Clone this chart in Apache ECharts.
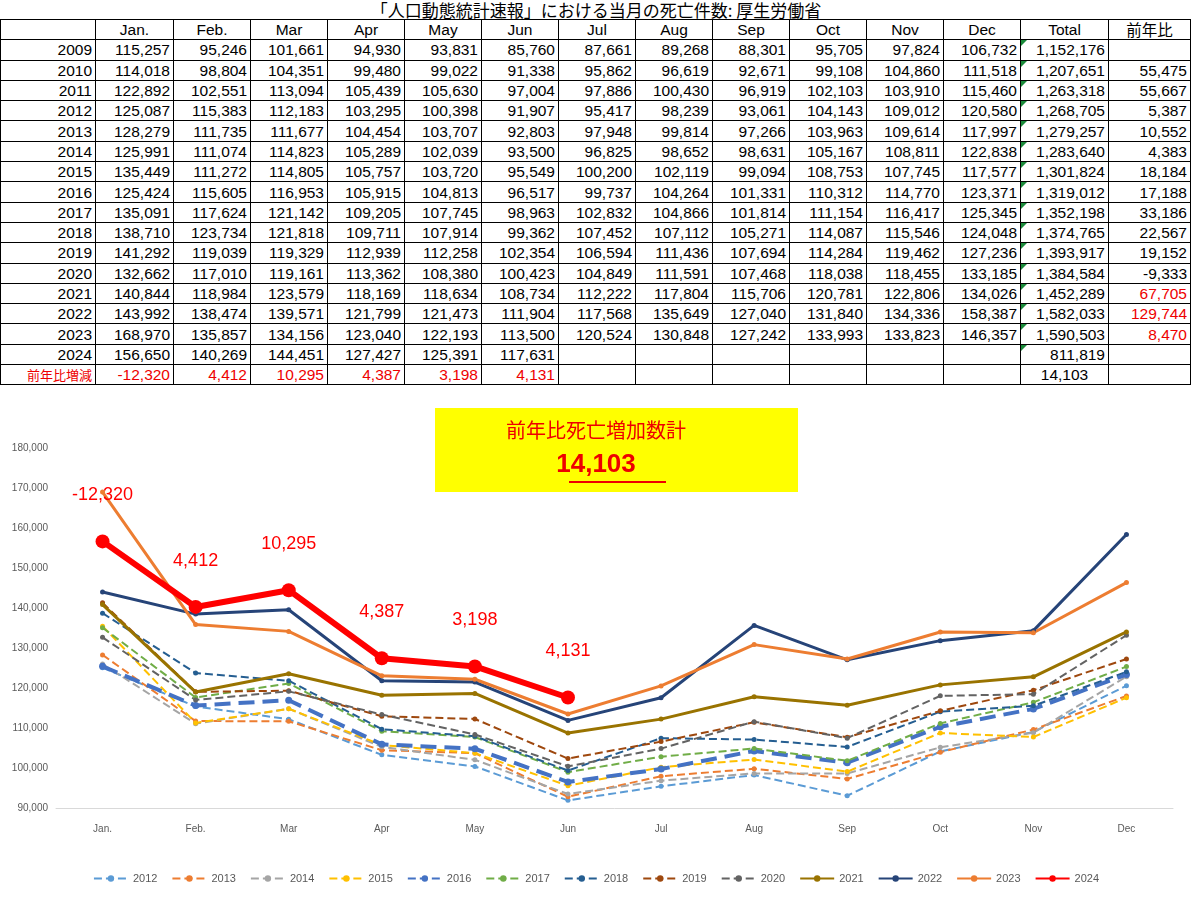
<!DOCTYPE html>
<html><head><meta charset="utf-8">
<script src="https://cdn.jsdelivr.net/npm/echarts@6/dist/echarts.min.js"></script>
<style>
body{margin:0;background:#fff;font-family:"Liberation Sans",Arial,"Noto Sans CJK JP",sans-serif;}
#title{position:absolute;left:0;top:0;width:1192px;text-align:center;font-size:17px;line-height:19px;font-family:"Noto Sans CJK JP",sans-serif;}
table{position:absolute;left:0;top:19px;border-collapse:collapse;font-size:15.5px;}
td{border:1px solid #000;height:19.3px;padding:0 3px;text-align:right;line-height:17px;white-space:nowrap;position:relative;}
tr.h td{text-align:center;}
td.red{color:#e00;}
td.tot::before{content:"";position:absolute;left:0;top:0;border-top:6px solid #1a8a3a;border-right:6px solid transparent;}
#chart{position:absolute;left:0;top:398px;width:1192px;height:499px;}
</style></head><body>
<div id="title">「人口動態統計速報」における当月の死亡件数: 厚生労働省</div>
<table id="tbl"></table>
<div id="chart"></div>
<script>
const months = ['Jan.','Feb.','Mar','Apr','May','Jun','Jul','Aug','Sep','Oct','Nov','Dec'];
const years = ['2009','2010','2011','2012','2013','2014','2015','2016','2017','2018','2019','2020','2021','2022','2023','2024'];
const y2009 = [115257,95246,101661,94930,93831,85760,87661,89268,88301,95705,97824,106732];
const y2010 = [114018,98804,104351,99480,99022,91338,95862,96619,92671,99108,104860,111518];
const y2011 = [122892,102551,113094,105439,105630,97004,97886,100430,96919,102103,103910,115460];
const y2012 = [125087,115383,112183,103295,100398,91907,95417,98239,93061,104143,109012,120580];
const y2013 = [128279,111735,111677,104454,103707,92803,97948,99814,97266,103963,109614,117997];
const y2014 = [125991,111074,114823,105289,102039,93500,96825,98652,98631,105167,108811,122838];
const y2015 = [135449,111272,114805,105757,103720,95549,100200,102119,99094,108753,107745,117577];
const y2016 = [125424,115605,116953,105915,104813,96517,99737,104264,101331,110312,114770,123371];
const y2017 = [135091,117624,121142,109205,107745,98963,102832,104866,101814,111154,116417,125345];
const y2018 = [138710,123734,121818,109711,107914,99362,107452,107112,105271,114087,115546,124048];
const y2019 = [141292,119039,119329,112939,112258,102354,106594,111436,107694,114284,119462,127236];
const y2020 = [132662,117010,119161,113362,108380,100423,104849,111591,107468,118038,118455,133185];
const y2021 = [140844,118984,123579,118169,118634,108734,112222,117804,115706,120781,122806,134026];
const y2022 = [143992,138474,139571,121799,121473,111904,117568,135649,127040,131840,134336,158387];
const y2023 = [168970,135857,134156,123040,122193,113500,120524,130848,127242,133993,133823,146357];
const y2024 = [156650,140269,144451,127427,125391,117631];
const diff2024 = [-12320,4412,10295,4387,3198,4131];
const totals = [1152176,1207651,1263318,1268705,1279257,1283640,1301824,1319012,1352198,1374765,1393917,1384584,1452289,1582033,1590503,811819];
const yoy = [null,55475,55667,5387,10552,4383,18184,17188,33186,22567,19152,-9333,67705,129744,8470];
const diffTotal = 14103;

const rows = [y2009,y2010,y2011,y2012,y2013,y2014,y2015,y2016,y2017,y2018,y2019,y2020,y2021,y2022,y2023,y2024];
const f = v => v == null ? '' : v.toLocaleString('en-US');
const widths = [95,78,77,77,77,77,77,77,77,77,77,77,77,88,82];
let h = '<tr class="h"><td></td>' + months.map(m => '<td>' + m + '</td>').join('') + '<td>Total</td><td style="font-family:Noto Sans CJK JP">前年比</td></tr>';
rows.forEach((r, i) => {
  h += '<tr><td>' + years[i] + '</td>';
  for (let m = 0; m < 12; m++) h += '<td>' + f(r[m]) + '</td>';
  h += '<td class="tot">' + f(totals[i]) + '</td><td class="' + (i >= 12 && i <= 14 ? 'red' : '') + '">' + f(yoy[i]) + '</td></tr>';
});
h += '<tr><td class="red" style="font-family:Noto Sans CJK JP;font-size:13px">前年比増減</td>';
for (let m = 0; m < 12; m++) h += '<td class="red">' + f(diff2024[m]) + '</td>';
h += '<td style="text-align:center">' + f(diffTotal) + '</td><td></td></tr>';
const tbl = document.getElementById('tbl');
tbl.innerHTML = h;
Array.from(tbl.rows[0].cells).forEach((c, i) => { c.style.width = (widths[i] - 7) + 'px'; c.style.minWidth = (widths[i] - 7) + 'px'; });

const styles = [
  ['2012', y2012, '#5b9bd5', 'dashed', 2, 5],
  ['2013', y2013, '#ed7d31', 'dashed', 2, 5],
  ['2014', y2014, '#a5a5a5', 'dashed', 2, 5],
  ['2015', y2015, '#ffc000', 'dashed', 2, 5],
  ['2016', y2016, '#4472c4', 'dashed', 4, 7],
  ['2017', y2017, '#70ad47', 'dashed', 2, 5],
  ['2018', y2018, '#255e91', 'dashed', 2, 5],
  ['2019', y2019, '#9e480e', 'dashed', 2, 5],
  ['2020', y2020, '#636363', 'dashed', 2, 5],
  ['2021', y2021, '#997300', 'solid', 3, 5],
  ['2022', y2022, '#264478', 'solid', 3, 5],
  ['2023', y2023, '#ed7d31', 'solid', 3, 5],
  ['2024', y2024, '#ff0000', 'solid', 6, 14]
];
const series = styles.map(s => ({
  name: s[0], type: 'line', data: s[1], symbol: 'circle', symbolSize: s[5],
  lineStyle: { color: s[2], type: s[3], width: s[4] }, itemStyle: { color: s[2] },
  z: s[0] === '2024' ? 10 : 2,
  label: s[0] === '2024' ? { show: true, position: 'top', distance: 30, color: '#f00', fontSize: 18,
    formatter: p => f(diff2024[p.dataIndex]) } : { show: false }
}));

const chart = echarts.init(document.getElementById('chart'));
chart.setOption({
  animation: false,
  grid: { left: 56, right: 19, top: 50, bottom: 89 },
  xAxis: { type: 'category', data: months, axisLine: { lineStyle: { color: '#d9d9d9' } }, axisTick: { show: false },
    axisLabel: { color: '#595959', fontSize: 10, margin: 16 } },
  yAxis: { type: 'value', min: 90000, max: 180000, interval: 10000,
    axisLabel: { color: '#595959', fontSize: 10, formatter: v => f(v) },
    splitLine: { show: false }, axisLine: { show: false } },
  legend: { bottom: 8, left: 'center', itemWidth: 34, itemHeight: 8, itemGap: 14,
    textStyle: { color: '#595959', fontSize: 11 } },
  graphic: [
    { type: 'rect', left: 435, top: 10, shape: { width: 363, height: 84 }, style: { fill: '#ffff00' } },
    { type: 'text', left: 'center', top: 22, style: { text: '前年比死亡増加数計', fill: '#e00', font: '20px "Noto Sans CJK JP"' } },
    { type: 'text', left: 'center', top: 54, style: { text: f(diffTotal), fill: '#e00', font: 'bold 26px "Liberation Sans"' } },
    { type: 'rect', left: 569, top: 83, shape: { width: 97, height: 2 }, style: { fill: '#e00' } }
  ],
  series
});
</script>
</body></html>
